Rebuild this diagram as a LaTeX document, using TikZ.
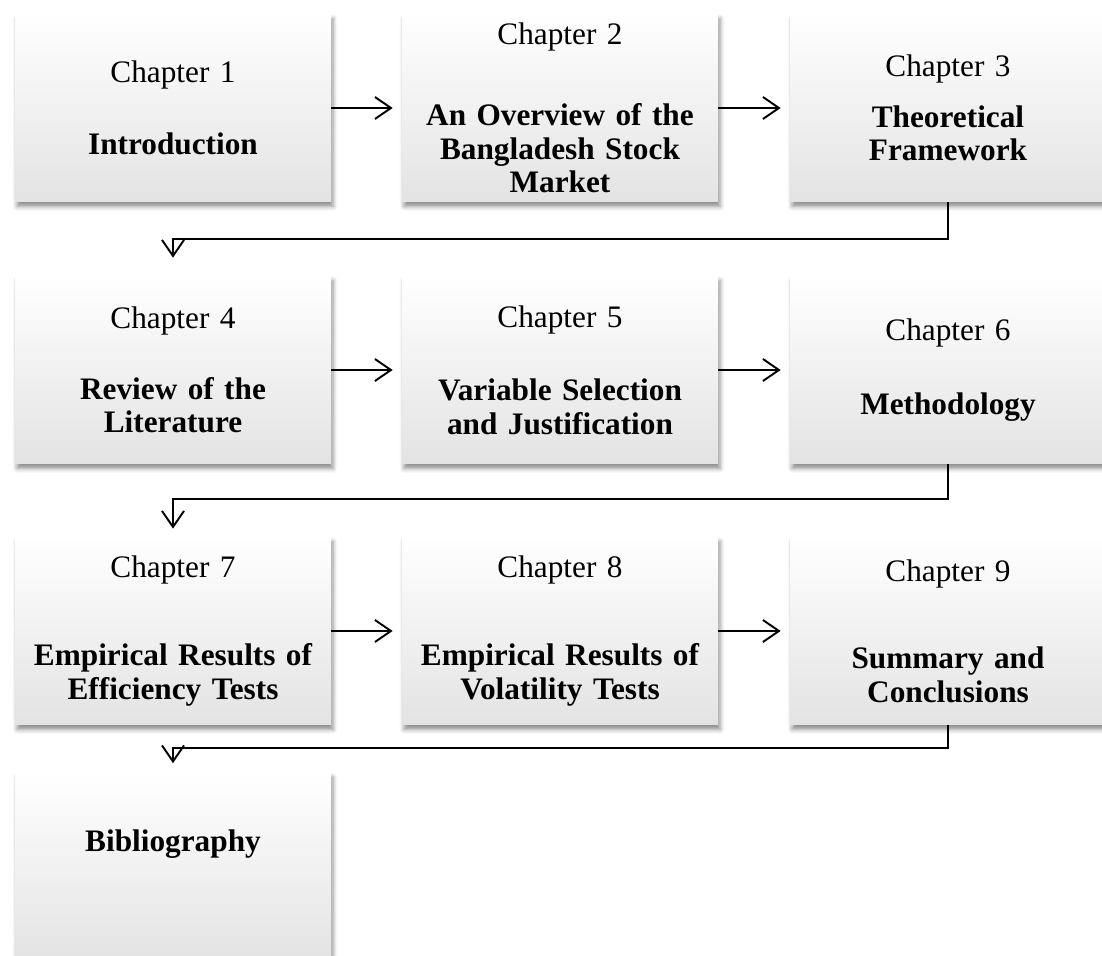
\documentclass[tikz,border=0pt]{standalone}
\usepackage{fontspec}
\setmainfont{Liberation Serif}
\usetikzlibrary{arrows.meta,shadows.blur}

\begin{document}
\begin{tikzpicture}
        \useasboundingbox (0,0) rectangle (22.04,-19.12);
        \begin{scope}
            \tikzstyle{every node}=[rectangle, minimum width=6.32cm, minimum height=3.76cm, inner sep=0pt,
                text width=6cm, align=center, font=\fontsize{17.8pt}{19pt}\selectfont,
                top color=white, middle color=white, bottom color=black!11,
                blur shadow={shadow xshift=1.2pt, shadow yshift=-2.6pt, shadow blur radius=2.5pt, shadow opacity=45}]
            \node (1) at (3.46,-2.16) {Chapter 1\\[22pt]\textbf{Introduction}};
            \node (2) at (11.2,-2.16) {Chapter 2\\[27pt]\textbf{An Overview of the\\Bangladesh Stock\\Market}};
            \node (3) at (18.96,-2.16) {Chapter 3\\[10pt]\textbf{Theoretical\\Framework}};
            \node (4) at (3.46,-7.4) {Chapter 4\\[21pt]\textbf{Review of the\\Literature}};
            \node (5) at (11.2,-7.4) {Chapter 5\\[23pt]\textbf{Variable Selection\\and Justification}};
            \node (6) at (18.96,-7.4) {Chapter 6\\[23.5pt]\textbf{Methodology}};
            \node (7) at (3.46,-12.62) {Chapter 7\\[31pt]\textbf{Empirical Results of\\Efficiency Tests}};
            \node (8) at (11.2,-12.62) {Chapter 8\\[31pt]\textbf{Empirical Results of\\Volatility Tests}};
            \node (9) at (18.96,-12.62) {Chapter 9\\[31pt]\textbf{Summary and\\Conclusions}};
            \node (bib) at (3.46,-17.33) {\textbf{Bibliography}\\[10pt]\mbox{}};
        \end{scope}
        \begin{scope}
            \tikzstyle{every edge}=[draw, line width=1.1pt, -{Straight Barb[length=3.2mm,width=4.4mm]}, shorten >=0.18cm]
            \path
            (1) edge (2)
            (2) edge (3)
            (4) edge (5)
            (5) edge (6)
            (7) edge (8)
            (8) edge (9)
            ;
            \tikzstyle{every path}=[draw, line width=1.1pt, -{Straight Barb[length=3.2mm,width=4.4mm]}]
            \path[shorten >=0.36cm] (3.south) -- ++(0,-0.74) -| (4.north);
            \path[shorten >=0.16cm] (6.south) -- ++(0,-0.7) -| (7.north);
            \path[shorten >=0.18cm] (9.south) -- ++(0,-0.46) -| (bib.north);
        \end{scope}
    \end{tikzpicture}
\end{document}
